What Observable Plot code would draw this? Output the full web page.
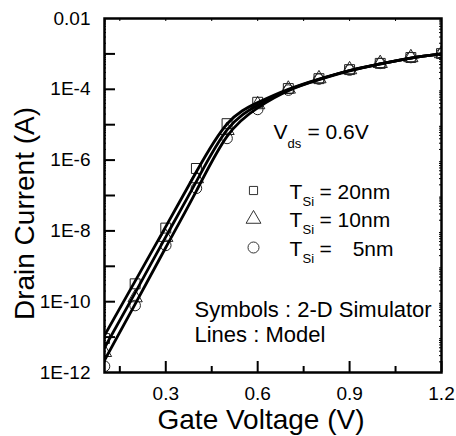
<!DOCTYPE html>
<html><head><meta charset="utf-8">
<script src="https://cdn.jsdelivr.net/npm/d3@7"></script>
<script src="https://cdn.jsdelivr.net/npm/@observablehq/plot@0.6"></script>
<style>body{margin:0;background:#fff}</style>
</head><body><div id="chart"></div>
<script>
// Gate voltage (V)
const gateVoltage = [0.1, 0.2, 0.3, 0.4, 0.5, 0.6, 0.7, 0.8, 0.9, 1.0, 1.1, 1.2];
// 2-D simulator symbols, drain current (A)
const sim20nm = [9.1e-12, 3.2e-10, 1.2e-8, 5.8e-7, 1.07e-5, 4.3e-5, 1.05e-4, 2.0e-4, 3.6e-4, 5.4e-4, 7.9e-4, 1.02e-3];
const sim10nm = [3.7e-12, 1.3e-10, 6.6e-9, 3.0e-7, 6.9e-6, 3.7e-5, 1.02e-4, 2.0e-4, 3.6e-4, 5.4e-4, 7.9e-4, 1.02e-3];
const sim5nm  = [1.5e-12, 7.8e-11, 3.9e-9, 1.6e-7, 4.1e-6, 2.7e-5, 9.5e-5, 1.95e-4, 3.5e-4, 5.4e-4, 7.9e-4, 1.02e-3];
// Model lines, drain current (A)
const model20nm = [1.12e-11, 3.8e-10, 1.32e-8, 4.7e-7, 1.05e-5, 4.2e-5, 1.0e-4, 1.95e-4, 3.4e-4, 5.2e-4, 7.6e-4, 1.0e-3];
const model10nm = [5.0e-12, 1.78e-10, 6.8e-9, 2.5e-7, 7.1e-6, 3.55e-5, 9.5e-5, 1.9e-4, 3.4e-4, 5.2e-4, 7.6e-4, 1.0e-3];
const model5nm  = [2.2e-12, 8.5e-11, 3.4e-9, 1.35e-7, 4.7e-6, 3.0e-5, 9.1e-5, 1.86e-4, 3.3e-4, 5.2e-4, 7.6e-4, 1.0e-3];

const seriesNames = ["20nm", "10nm", "5nm"];
const seriesSymbols = ["square", "triangle", "circle"];
const legendValues = ["20nm", "10nm", "5nm"];

// Axis ticks
const xTickValues = [0.3, 0.6, 0.9, 1.2];
const xTickLabels = ["0.3", "0.6", "0.9", "1.2"];
const xMinorTicks = [0.15, 0.45, 0.75, 1.05];
const xTopTicks = [0.15, 0.3, 0.45, 0.6, 0.75, 0.9, 1.05];
const yLabelTicks = [1e-12, 1e-10, 1e-8, 1e-6, 1e-4, 1e-2];
const yTickLabels = ["1E-12", "1E-10", "1E-8", "1E-6", "1E-4", "0.01"];
const yDecadeTicks = [1e-11, 1e-10, 1e-9, 1e-8, 1e-7, 1e-6, 1e-5, 1e-4, 1e-3];

const simSets = [sim20nm, sim10nm, sim5nm];
const modelSets = [model20nm, model10nm, model5nm];
const simRows = [], modelRows = [];
seriesNames.forEach((s, k) => {
  gateVoltage.forEach((v, i) => {
    simRows.push({series: s, vg: v, id: simSets[k][i]});
    modelRows.push({series: s, vg: v, id: modelSets[k][i]});
  });
});
const yMinor = [];
for (let e = -12; e < -2; e++) for (let m = 2; m <= 9; m++) yMinor.push(m * Math.pow(10, e));

const yLabelMap = new Map(yLabelTicks.map((d, i) => [d, yTickLabels[i]]));
const xLabelMap = new Map(xTickValues.map((d, i) => [d, xTickLabels[i]]));

const W = 456, H = 436, L = 104, R = 15, T = 18, B = 64;
const FW = W - L - R, FH = H - T - B;
const font = "'Liberation Sans', Arial, sans-serif";
const marks = [];

// data symbols
seriesNames.forEach((s, k) => {
  marks.push(Plot.dot(simRows.filter(d => d.series === s), {
    x: "vg", y: "id", symbol: () => seriesSymbols[k], r: k === 0 ? 5.6 : 5.3,
    stroke: "#222", strokeWidth: 1, fill: "none", clip: true
  }));
});
// model lines
seriesNames.forEach((s) => {
  marks.push(Plot.line(modelRows.filter(d => d.series === s), {
    x: "vg", y: "id", curve: "natural", stroke: "black", strokeWidth: 2.8, clip: true
  }));
});

// axes labels
marks.push(
  Plot.axisY(yLabelTicks, {tickSize: 0, tickPadding: 14, fontSize: 19, tickFormat: d => yLabelMap.get(d), label: null}),
  Plot.axisX(xTickValues, {tickSize: 0, tickPadding: 14, fontSize: 19, tickFormat: d => xLabelMap.get(d), label: null})
);
// inward ticks
marks.push(
  Plot.ruleY(yDecadeTicks, {y: d => d, insetRight: FW - 11, strokeWidth: 2}),
  Plot.ruleY(yMinor, {y: d => d, insetRight: FW - 2, strokeWidth: 1}),
  Plot.ruleY(yMinor, {y: d => d, insetLeft: FW - 2, strokeWidth: 1}),
  Plot.ruleX(xTickValues, {x: d => d, insetTop: FH - 11, strokeWidth: 2}),
  Plot.ruleX(xMinorTicks, {x: d => d, insetTop: FH - 6, strokeWidth: 2}),
  Plot.ruleX(xTopTicks, {x: d => d, insetBottom: FH - 3, strokeWidth: 1}),
  Plot.frame({stroke: "black", strokeWidth: 2.5})
);

// titles
marks.push(
  Plot.text(["Gate Voltage (V)"], {text: d => d, frameAnchor: "bottom", textAnchor: "middle", dx: -12, dy: 56, lineAnchor: "bottom", fontSize: 28}),
  Plot.text(["Drain Current (A)"], {text: d => d, frameAnchor: "left", textAnchor: "middle", dx: 33 - L, dy: 18, rotate: -90, lineAnchor: "bottom", fontSize: 28})
);

// annotations
const txt = (s, x, y, size, anchor = "start") => Plot.text([s], {text: d => d, frameAnchor: "top-left", dx: x - L, dy: y - T, textAnchor: anchor, lineAnchor: "bottom", fontSize: size});
marks.push(
  txt("V", 273, 138, 21), txt("ds", 287, 147, 13), txt("= 0.6V", 307, 138, 21),
  txt("Symbols : 2-D Simulator", 194, 316, 22),
  txt("Lines : Model", 194, 341, 22)
);
const rowBase = [198, 226.5, 255];
seriesNames.forEach((s, k) => {
  const b = rowBase[k];
  marks.push(
    Plot.dot([s], {frameAnchor: "top-left", dx: 253 - L, dy: b - 8 - T, symbol: () => seriesSymbols[k], r: k === 0 ? 4.6 : 5.5, stroke: "#333", strokeWidth: 1, fill: "none"}),
    txt("T", 289, b, 21), txt("Si", 302, b + 7, 13)
  );
  if (k < 2) marks.push(txt("= " + legendValues[k], 319, b, 21));
  else marks.push(txt("=", 319, b, 21), txt(legendValues[k], 393, b, 21, "end"));
});

const chart = Plot.plot({
  width: W, height: H,
  marginLeft: L, marginRight: R, marginTop: T, marginBottom: B,
  style: {fontFamily: font, color: "black", background: "white", overflow: "visible"},
  x: {domain: [0.1, 1.2]},
  y: {type: "log", domain: [1e-12, 1e-2]},
  marks
});
document.getElementById("chart").appendChild(chart);
</script>
</body></html>
